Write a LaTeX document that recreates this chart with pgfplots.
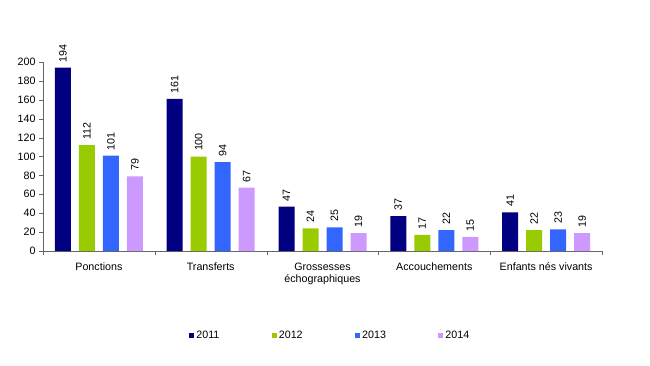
\documentclass[border=0pt]{standalone}
\usepackage{pgfplots}
\pgfplotsset{compat=1.18}
\usepackage{fontspec}
\setmainfont{Liberation Sans}
\definecolor{c1}{HTML}{000080}
\definecolor{c2}{HTML}{99CC00}
\definecolor{c3}{HTML}{3366FF}
\definecolor{c4}{HTML}{CC99FF}
\begin{document}
\begin{tikzpicture}
\begin{axis}[
  name=ax,
  scale only axis, width=559pt, height=189pt,
  font=\fontsize{10.7}{12.5}\selectfont,
  /pgf/number format/assume math mode=true,
  ybar=8pt, bar width=16pt,
  xmin=-0.5, xmax=4.5, ymin=0, ymax=200,
  ytick={0,20,...,200},
  xtick={-0.5,0.5,...,4.5}, xticklabels={},
  extra x ticks={0,1,2,3,4},
  extra x tick labels={Ponctions,Transferts,{Grossesses\\échographiques},Accouchements,Enfants nés vivants},
  extra x tick style={major tick length=0pt},
  x tick label style={align=center, yshift=-8pt},
  axis x line*=bottom, axis y line*=left,
  axis line style={black!60, -},
  tick style={black!60},
  tick align=outside, major tick length=4pt,
  nodes near coords, every node near coord/.append style={rotate=90, anchor=west, font=\fontsize{10.7}{12.5}\selectfont, xshift=2pt},
  legend columns=4,
  legend style={draw=none, at={(0.514,-0.447)}, anchor=center, font=\fontsize{10.7}{12.5}\selectfont,
    /tikz/every even column/.append style={column sep=50.5pt}},
  legend image code/.code={\fill[#1] (0pt,-2.5pt) rectangle (5pt,2.5pt);},
]
\addplot[fill=c1, draw=none] coordinates {(0,194) (1,161) (2,47) (3,37) (4,41)};
\addplot[fill=c2, draw=none] coordinates {(0,112) (1,100) (2,24) (3,17) (4,22)};
\addplot[fill=c3, draw=none] coordinates {(0,101) (1,94) (2,25) (3,22) (4,23)};
\addplot[fill=c4, draw=none] coordinates {(0,79) (1,67) (2,19) (3,15) (4,19)};
\legend{2011,2012,2013,2014}
\end{axis}
\pgfresetboundingbox
\path[use as bounding box] (ax.south west) ++(-43pt,-114pt) rectangle ++(650pt,365pt);
\end{tikzpicture}
\end{document}
